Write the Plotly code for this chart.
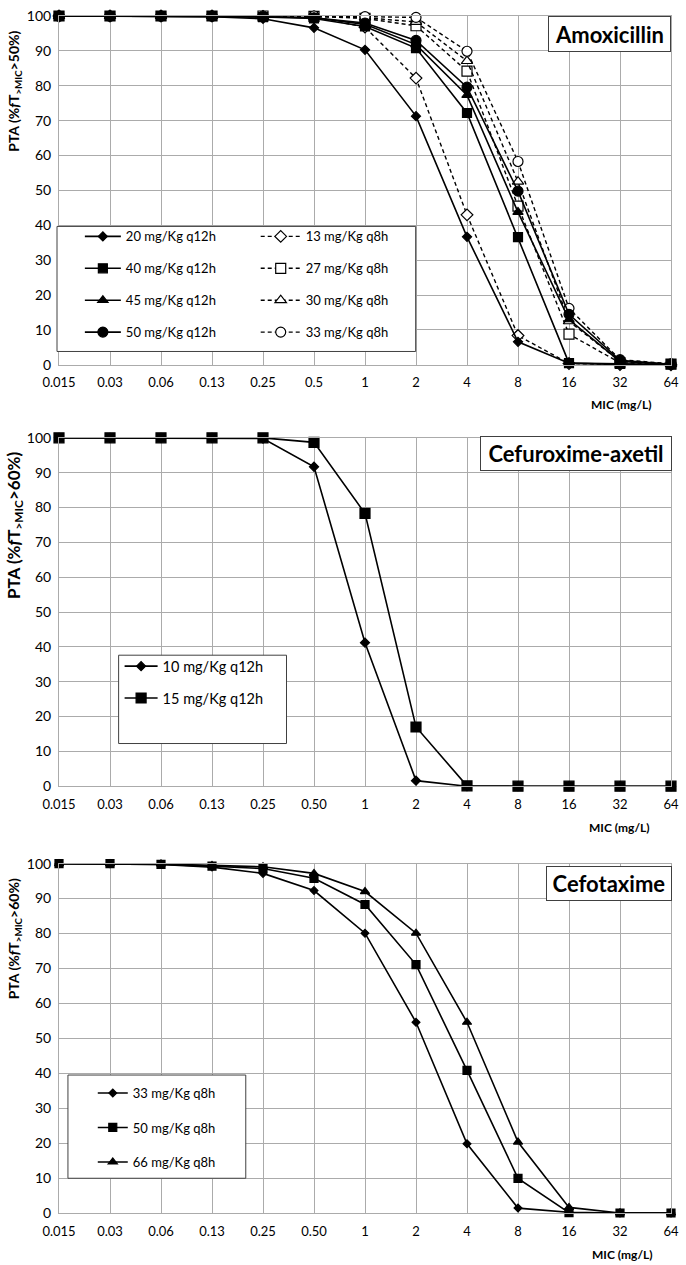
import plotly.graph_objects as go

# ---------------- data ----------------
mic_top = ["0.015", "0.03", "0.06", "0.13", "0.25", "0.5", "1", "2", "4", "8", "16", "32", "64"]
mic_low = ["0.015", "0.03", "0.06", "0.13", "0.25", "0.50", "1", "2", "4", "8", "16", "32", "64"]

# Amoxicillin (%fT>MIC>50%)
amox_20_q12 = [100, 100, 100, 99.8, 99.2, 96.6, 90.3, 71.3, 36.7, 6.6, 0.5, 0.1, 0]
amox_40_q12 = [100, 100, 100, 100, 99.7, 99.3, 97.0, 90.8, 72.2, 36.6, 0.5, 0.3, 0.2]
amox_45_q12 = [100, 100, 100, 100, 99.8, 99.5, 97.6, 91.8, 77.3, 43.8, 13.0, 1.0, 0.2]
amox_50_q12 = [100, 100, 100, 100, 99.8, 99.5, 98.0, 93.0, 79.6, 49.8, 14.5, 1.3, 0.2]
amox_13_q8 = [100, 100, 100, 100, 99.9, 99.7, 96.8, 82.2, 43.0, 8.4, 0.4, 0.1, 0]
amox_27_q8 = [100, 100, 100, 100, 100, 99.9, 99.3, 97.2, 84.2, 45.5, 8.8, 0.6, 0.2]
amox_30_q8 = [100, 100, 100, 100, 100, 99.9, 99.5, 98.3, 87.1, 52.5, 12.5, 1.0, 0.2]
amox_33_q8 = [100, 100, 100, 100, 100, 100, 99.8, 99.6, 89.9, 58.3, 16.2, 1.5, 0.3]

# Cefuroxime-axetil (%fT>MIC>60%)
cefu_10_q12 = [100, 100, 100, 100, 99.8, 91.7, 41.2, 1.6, 0, 0, 0, 0, 0]
cefu_15_q12 = [100, 100, 100, 100, 100, 98.7, 78.3, 17.0, 0.1, 0, 0, 0, 0]

# Cefotaxime (%fT>MIC>60%)
ctx_33_q8 = [100, 100, 99.8, 99.0, 97.2, 92.3, 80.1, 54.6, 19.8, 1.4, 0.2, 0, 0]
ctx_50_q8 = [100, 100, 99.8, 99.3, 98.6, 95.8, 88.3, 71.1, 40.8, 9.9, 0.1, 0, 0]
ctx_66_q8 = [100, 100, 99.9, 99.5, 99.1, 97.2, 92.0, 80.1, 54.6, 20.3, 1.6, 0, 0]

# ---------------- layout helpers ----------------
W, H = 686, 1265
ML, MR, MT, MB = 59, 11, 7, 52
PW, PH = W - ML - MR, H - MT - MB
FONT = "Lato"
GRID = "#ABABAB"
BOXLINE = "#404040"


def px(xp):
    return (xp - ML) / PW


def py(yp):
    return (H - MB - yp) / PH


fig = go.Figure()
xa_labels = {"x": mic_top, "x2": mic_low, "x3": mic_low}
DASH = "4px,3px"


def add(series, name, xa, ya, symbol, size, dash, legend, rank, filled=True):
    fig.add_trace(go.Scatter(
        x=xa_labels[xa], y=series, name=name, mode="lines+markers",
        xaxis=xa, yaxis=ya, legend=legend, legendgroup=name, legendrank=rank,
        line=dict(color="black", width=1.6 if dash == "solid" else 1.4, dash=dash),
        marker=dict(symbol=symbol, size=size,
                    color="black" if filled else "white",
                    line=dict(color="black", width=1.2)),
        cliponaxis=False, hoverinfo="x+y+name",
    ))


# top panel (open q8h drawn first, filled q12h on top)
add(amox_13_q8, "13 mg/Kg q8h", "x", "y", "diamond", 9, DASH, "legend2", 1, False)
add(amox_27_q8, "27 mg/Kg q8h", "x", "y", "square", 10, DASH, "legend2", 2, False)
add(amox_30_q8, "30 mg/Kg q8h", "x", "y", "triangle-up", 10, DASH, "legend2", 3, False)
add(amox_33_q8, "33 mg/Kg q8h", "x", "y", "circle", 10, DASH, "legend2", 4, False)
add(amox_20_q12, "20 mg/Kg q12h", "x", "y", "diamond", 7, "solid", "legend", 1)
add(amox_45_q12, "45 mg/Kg q12h", "x", "y", "triangle-up", 9, "solid", "legend", 3)
add(amox_50_q12, "50 mg/Kg q12h", "x", "y", "circle", 10, "solid", "legend", 4)
add(amox_40_q12, "40 mg/Kg q12h", "x", "y", "square", 9, "solid", "legend", 2)
# middle panel
add(cefu_10_q12, "10 mg/Kg q12h", "x2", "y2", "diamond", 7, "solid", "legend3", 1)
add(cefu_15_q12, "15 mg/Kg q12h", "x2", "y2", "square", 10, "solid", "legend3", 2)
# bottom panel
add(ctx_33_q8, "33 mg/Kg q8h ", "x3", "y3", "diamond", 6, "solid", "legend4", 1)
add(ctx_50_q8, "50 mg/Kg q8h ", "x3", "y3", "square", 8, "solid", "legend4", 2)
add(ctx_66_q8, "66 mg/Kg q8h ", "x3", "y3", "triangle-up", 8, "solid", "legend4", 3)

panels = {  # (top px, bottom px)
    "1": (7, 358.5),
    "2": (432, 783),
    "3": (861, 1213),
}

axis_common = dict(showgrid=True, gridcolor=GRID, gridwidth=1, showline=True, mirror=True,
                   linecolor=GRID, linewidth=1, zeroline=False, ticks="")
lay = {}
for k, (t, b) in panels.items():
    sx = "" if k == "1" else k
    lay["xaxis" + sx] = dict(axis_common, domain=[0, 1], anchor="y" + sx, type="category",
                             range=[0, 12], tickfont=dict(family=FONT, size=13, color="black"),
                             ticklabelstandoff=6, fixedrange=True)
    lay["yaxis" + sx] = dict(axis_common, domain=[py(b), py(t)], anchor="x" + sx,
                             range=[0, 100], dtick=10, tick0=0,
                             tickfont=dict(family=FONT, size=14, color="black"),
                             ticklabelstandoff=4, fixedrange=True)


def leg(xp, yp, size, iw, gap):
    return dict(x=px(xp), y=py(yp), xanchor="left", yanchor="top", bgcolor="rgba(0,0,0,0)",
                borderwidth=0, font=dict(family=FONT, size=size, color="black"),
                itemwidth=iw, tracegroupgap=gap, traceorder="grouped")


lay["legend"] = leg(80, 214, 13, 36, 12)
lay["legend2"] = leg(257, 214, 13, 40, 12)
lay["legend3"] = leg(120, 646, 14.5, 33, 10)
lay["legend4"] = leg(93, 1077, 13, 30, 14.6)

shapes = []
for (x0, y0, x1, y1) in [(57, 219, 418, 345), (119, 651, 288, 740), (68, 1074, 247, 1178)]:
    shapes.append(dict(type="rect", xref="paper", yref="paper", x0=px(x0), x1=px(x1),
                       y0=py(y1), y1=py(y0), fillcolor="white",
                       line=dict(color=BOXLINE, width=1), layer="above"))

annotations = []
# titles in boxes
for text, right, top, w, h in [("Amoxicillin", 675, 7, 117, 30),
                               ("Cefuroxime-axetil", 676, 430, 186, 29),
                               ("Cefotaxime", 676, 863, 120, 29)]:
    annotations.append(dict(text="<b>%s</b>" % text, xref="paper", yref="paper",
                            x=px(right), y=py(top), xanchor="right", yanchor="top",
                            showarrow=False, width=w, height=h, borderpad=2, borderwidth=1,
                            bordercolor=BOXLINE, bgcolor="white",
                            font=dict(family=FONT, size=22, color="black")))
# y titles
for pct, yc, fs in [("50", 82.5, 14), ("60", 520, 17), ("60", 936.5, 14)]:
    annotations.append(dict(text="<b>PTA (%<i>f</i>T<sub>&gt;MIC</sub>&gt;" + pct + "%)</b>",
                            xref="paper", yref="paper", x=px(14.5), y=py(yc),
                            xanchor="center", yanchor="middle", textangle=-90, showarrow=False,
                            font=dict(family=FONT, size=fs, color="black")))
# x titles
for xc, yc in [(625, 398), (623.5, 825), (626.5, 1255)]:
    annotations.append(dict(text="<b>MIC (mg/L)</b>", xref="paper", yref="paper",
                            x=px(xc), y=py(yc), xanchor="center", yanchor="middle",
                            showarrow=False, font=dict(family=FONT, size=12, color="black")))

fig.update_layout(
    width=W, height=H, margin=dict(l=ML, r=MR, t=MT, b=MB),
    paper_bgcolor="white", plot_bgcolor="white",
    font=dict(family=FONT, color="black"),
    shapes=shapes, annotations=annotations, showlegend=True,
    **lay,
)

fig.write_html("out.html", config={"displayModeBar": False},
               post_script="document.body.style.margin='0';document.body.style.overflow='hidden';")
